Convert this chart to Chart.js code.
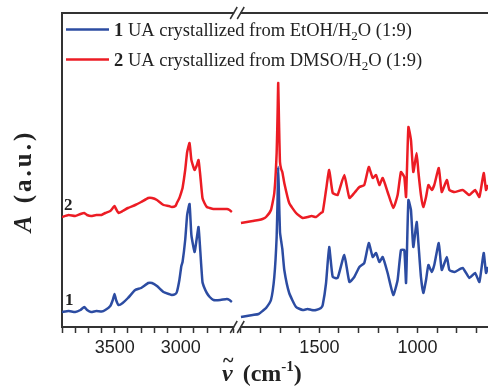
<!DOCTYPE html>
<html>
<head>
<meta charset="utf-8">
<script src="https://cdn.jsdelivr.net/npm/chart.js@4"></script>
<style>
  html, body { margin: 0; background: #fff; }
</style>
</head>
<body>
<canvas id="myChart" width="488" height="388"></canvas>
<script>
// wavenumbers (cm-1), high-frequency part of the broken axis
const waveLeft = [3900, 3850, 3800, 3760, 3731, 3710, 3680, 3640, 3600, 3572, 3534, 3515, 3502, 3490, 3471,
  3440, 3400, 3345, 3300, 3246, 3218, 3180, 3130, 3090, 3067, 3040, 3029, 3010, 2995, 2986, 2966, 2951,
  2933, 2919, 2895, 2880, 2865, 2852, 2835, 2820, 2802, 2780, 2752, 2700, 2650, 2630, 2612];
const blueLeft = [15, 16, 15, 17, 20, 17, 15, 16, 15.5, 17, 21, 27, 33, 27, 22,
  24, 29, 37, 39, 44, 44, 41, 35, 33, 32, 33, 35, 47, 61, 65, 87, 112,
  123, 92, 75, 87, 100, 77, 45, 39, 34, 30, 27, 27, 28, 27, 25];
const redLeft = [110, 112, 111, 113, 114, 112, 111, 112, 112, 114, 116, 119, 121, 118, 114,
  116, 119, 122, 125, 129, 129, 127, 122, 121, 120, 121, 124, 129, 135, 139, 157, 175,
  184, 167, 157, 161, 167, 152, 129, 124, 120, 119, 118, 118, 118, 117, 115];

// fingerprint part
const waveRight = [1900, 1870, 1840, 1810, 1790, 1772, 1747, 1730, 1718, 1713, 1710, 1706, 1701, 1695, 1689,
  1679, 1654, 1619, 1585, 1560, 1540, 1517, 1492, 1483, 1466, 1450, 1432, 1407, 1373, 1347,
  1322, 1296, 1271, 1248, 1228, 1211, 1194, 1177, 1152, 1123, 1101, 1084, 1067, 1058, 1046,
  1033, 1021, 1004, 995, 982, 970, 956, 944, 927, 914, 891, 876, 850, 837, 811,
  769, 735, 706, 684, 662, 650, 640];
const blueRight = [10, 11, 12, 13, 16, 19, 27, 50, 90, 130, 160, 130, 95, 86, 78,
  57, 34, 20, 17, 18, 17, 17, 19, 22, 44, 80, 50, 49, 72, 45,
  50, 60, 64, 84, 70, 74, 65, 70, 54, 32, 47, 77, 77, 44, 127,
  117, 80, 105, 84, 50, 34, 47, 62, 55, 62, 84, 57, 70, 57, 55,
  59, 49, 54, 45, 74, 54, 60];
const redRight = [104, 105, 106, 107, 108, 110, 117, 134, 174, 215, 244, 205, 165, 158, 155,
  144, 124, 114, 109, 110, 111, 110, 114, 115, 137, 157, 134, 132, 152, 129,
  134, 140, 142, 160, 149, 152, 142, 149, 135, 119, 132, 155, 150, 130, 200,
  187, 155, 174, 155, 132, 120, 130, 142, 137, 142, 159, 135, 147, 137, 135,
  137, 132, 137, 130, 154, 137, 142];

const tickValues = [3900, 3800, 3700, 3600, 3500, 3400, 3300, 3200, 3100, 3000, 2900, 2800, 2700, 2600,
  1900, 1800, 1700, 1600, 1500, 1400, 1300, 1200, 1100, 1000, 900, 800, 700];
const tickLabels = [3500, 3000, 1500, 1000];

const seriesNames = ["UA crystallized from EtOH/H", "UA crystallized from DMSO/H"];

const LEFT_SEG = [3900, 2600];
const RIGHT_SEG = [1900, 640];
const LEFT_FRAC = 0.4025;
const GAP_PX = 7.5;

const SERIF = '"Liberation Serif", "Times New Roman", serif';
const SANS = '"Liberation Sans", Arial, sans-serif';
const BLUE = "#2c4ca2";
const RED = "#ec1c24";
const AXIS = "#333333";

// linear scale with a gap between the two wavenumber ranges
class BrokenScale extends Chart.LinearScale {
  segs() {
    const w1 = this.width * LEFT_FRAC;
    return [w1, this.width - w1 - GAP_PX];
  }
  getPixelForValue(v) {
    const [w1, w2] = this.segs();
    if (v >= (LEFT_SEG[1] + RIGHT_SEG[0]) / 2) {
      return this.left + (LEFT_SEG[0] - v) / (LEFT_SEG[0] - LEFT_SEG[1]) * w1;
    }
    return this.left + w1 + GAP_PX + (RIGHT_SEG[0] - v) / (RIGHT_SEG[0] - RIGHT_SEG[1]) * w2;
  }
  getValueForPixel(p) {
    const [w1, w2] = this.segs();
    const d = p - this.left;
    if (d <= w1) return LEFT_SEG[0] - d / w1 * (LEFT_SEG[0] - LEFT_SEG[1]);
    return RIGHT_SEG[0] - (d - w1 - GAP_PX) / w2 * (RIGHT_SEG[0] - RIGHT_SEG[1]);
  }
}
BrokenScale.id = "broken";
BrokenScale.defaults = Chart.LinearScale.defaults;
Chart.register(BrokenScale);

function points(waves, vals) {
  return waves.map((w, i) => ({ x: w, y: vals[i] }));
}
function series(l, r) {
  return points(waveLeft, l).concat([{ x: 2250, y: null }], points(waveRight, r));
}

function rich(ctx, x, y, parts) {
  let cx = x;
  for (const [t, font, dy] of parts) {
    ctx.font = font;
    ctx.fillText(t, cx, y + (dy || 0));
    cx += ctx.measureText(t).width;
  }
  return cx;
}

const extras = {
  id: "extras",
  afterDraw(chart) {
    const { ctx, chartArea: a } = chart;
    ctx.save();
    // top frame line
    ctx.strokeStyle = AXIS;
    ctx.lineWidth = 2;
    ctx.beginPath();
    ctx.moveTo(a.left, a.top);
    ctx.lineTo(a.right, a.top);
    ctx.stroke();

    // axis break marks
    const bx = a.left + a.width * LEFT_FRAC + GAP_PX / 2;
    for (const y of [a.top, a.bottom]) {
      ctx.fillStyle = "#fff";
      ctx.fillRect(bx - 3, y - 2, 6, 4);
      ctx.strokeStyle = AXIS;
      ctx.lineWidth = 1.5;
      ctx.beginPath();
      for (const off of [-3.5, 3.5]) {
        ctx.moveTo(bx + off - 3.5, y + 6);
        ctx.lineTo(bx + off + 3.5, y - 6);
      }
      ctx.stroke();
    }

    // legend
    ctx.fillStyle = "#222";
    ctx.textBaseline = "alphabetic";
    const rows = [[BLUE, "1", 36], [RED, "2", 66]];
    rows.forEach(([col, num, y], i) => {
      ctx.strokeStyle = col;
      ctx.lineWidth = 2.5;
      ctx.beginPath();
      ctx.moveTo(66, y - 6.5);
      ctx.lineTo(109, y - 6.5);
      ctx.stroke();
      rich(ctx, 114, y, [
        [num + " ", "bold 18.5px " + SERIF],
        [seriesNames[i], "18.5px " + SERIF],
        ["2", "13px " + SERIF, 4],
        ["O (1:9)", "18.5px " + SERIF]
      ]);
    });

    // curve numbers
    ctx.font = "bold 17px " + SERIF;
    ctx.fillText("2", 64, 210);
    ctx.fillText("1", 65, 305);

    // x title
    ctx.fillStyle = "#222";
    const tx = 222, ty = 381;
    ctx.font = "italic bold 24px " + SERIF;
    ctx.fillText("\u03bd", tx, ty);
    const wNu = ctx.measureText("\u03bd").width;
    ctx.font = "bold 20px " + SERIF;
    ctx.fillText("~", tx + 1, ty - 14);
    rich(ctx, tx + wNu + 4, ty, [
      [" (cm", "bold 24px " + SERIF],
      ["-1", "bold 15px " + SERIF, -10],
      [")", "bold 24px " + SERIF]
    ]);

    // y title
    ctx.translate(31, 181);
    ctx.rotate(-Math.PI / 2);
    ctx.letterSpacing = "3px";
    ctx.font = "italic bold 25px " + SERIF;
    const wA = ctx.measureText("A").width;
    ctx.font = "bold 25px " + SERIF;
    const w2 = ctx.measureText(" (a.u.)").width;
    rich(ctx, -(wA + w2) / 2, 0, [
      ["A", "italic bold 25px " + SERIF],
      [" (a.u.)", "bold 25px " + SERIF]
    ]);
    ctx.restore();
  }
};

const ctx = document.querySelector("#myChart");

const myChart = new Chart(ctx, {
  type: "line",
  data: {
    datasets: [
      { label: "1 " + seriesNames[0] + "2O (1:9)", data: series(blueLeft, blueRight), borderColor: BLUE },
      { label: "2 " + seriesNames[1] + "2O (1:9)", data: series(redLeft, redRight), borderColor: RED }
    ]
  },
  options: {
    responsive: false,
    animation: false,
    spanGaps: false,
    elements: {
      point: { radius: 0 },
      line: { borderWidth: 2.5, tension: 0.15 }
    },
    layout: { padding: { top: 13, right: 0, left: 0, bottom: 0 } },
    plugins: { legend: { display: false }, tooltip: { enabled: false } },
    scales: {
      x: {
        type: "broken",
        min: 640,
        max: 3900,
        afterBuildTicks(scale) {
          scale.ticks = tickValues.map(v => ({ value: v }));
        },
        afterFit(scale) { scale.height = 61; },
        border: { color: AXIS, width: 2 },
        grid: { drawOnChartArea: false, drawTicks: true, tickLength: 6, tickColor: AXIS, tickWidth: 1.5 },
        ticks: {
          autoSkip: false,
          maxRotation: 0,
          padding: 4,
          color: "#222",
          font: { family: SANS, size: 18 },
          callback: v => tickLabels.includes(v) ? String(v) : ""
        }
      },
      y: {
        min: 0,
        max: 314,
        afterFit(scale) { scale.width = 62; },
        border: { color: AXIS, width: 2 },
        grid: { display: false },
        ticks: { display: false }
      }
    }
  },
  plugins: [extras]
});
</script>
</body>
</html>
